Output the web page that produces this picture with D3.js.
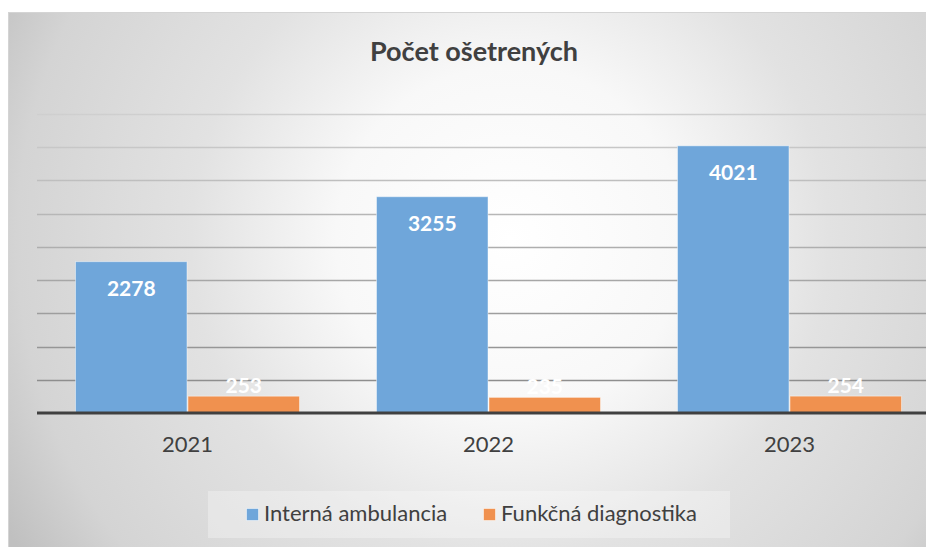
<!DOCTYPE html>
<html>
<head>
<meta charset="utf-8">
<script src="https://cdn.jsdelivr.net/npm/d3@7"></script>
<style>
    html, body { margin: 0; padding: 0; background: #fff; }
    svg { display: block; font-family: Lato, "Open Sans", sans-serif; }
</style>
</head>
<body>
<svg id="chart" width="926" height="547"></svg>
<script>
// data
var years = ["2021", "2022", "2023"];
var seriesNames = ["Interná ambulancia", "Funkčná diagnostika"];
var interna = [2278, 3255, 4021];
var funkcna = [253, 235, 254];
var yTicks = [500, 1000, 1500, 2000, 2500, 3000, 3500, 4000, 4500];

var colors = ["#6fa6da", "#f0914f"];
var values = [interna, funkcna];

var svg = d3.select("#chart");
var defs = svg.append("defs");

// pozadie - radialny gradient
var bg = defs.append("radialGradient")
    .attr("id", "bgGrad")
    .attr("gradientUnits", "userSpaceOnUse")
    .attr("cx", 510).attr("cy", 240).attr("r", 580);
bg.append("stop").attr("offset", "0").attr("stop-color", "#ffffff");
bg.append("stop").attr("offset", "0.3").attr("stop-color", "#f8f8f8");
bg.append("stop").attr("offset", "0.55").attr("stop-color", "#e2e2e2");
bg.append("stop").attr("offset", "0.85").attr("stop-color", "#d4d4d4");
bg.append("stop").attr("offset", "1").attr("stop-color", "#c0c0c0");

// mriezka tmavne smerom dole
var gg = defs.append("linearGradient")
    .attr("id", "gridGrad")
    .attr("gradientUnits", "userSpaceOnUse")
    .attr("x1", 0).attr("y1", 114).attr("x2", 0).attr("y2", 380);
gg.append("stop").attr("offset", "0").attr("stop-color", "#cfcfcf");
gg.append("stop").attr("offset", "1").attr("stop-color", "#8e8e8e");

svg.append("rect")
    .attr("x", 8.5).attr("y", 12.5)
    .attr("width", 930).attr("height", 550)
    .attr("fill", "url(#bgGrad)")
    .attr("stroke", "#d4d4d4")
    .attr("stroke-width", 1);

// scales
var x = d3.scaleBand()
    .domain(years)
    .range([37, 940])
    .paddingInner(0.2525)
    .paddingOuter(0.12625);

var xs = d3.scaleBand()
    .domain(seriesNames)
    .range([0, x.bandwidth()]);

var y = d3.scaleLinear()
    .domain([0, 4500])
    .range([413, 114]);

// gridlines
svg.append("g")
    .selectAll("line")
    .data(yTicks)
    .enter()
    .append("line")
    .attr("x1", 37)
    .attr("x2", 926)
    .attr("y1", function (d) { return Math.round(y(d)) + 0.5; })
    .attr("y2", function (d) { return Math.round(y(d)) + 0.5; })
    .attr("stroke", "url(#gridGrad)")
    .attr("stroke-width", 1.5);

// stlpce
var groups = svg.append("g")
    .selectAll("g")
    .data(years)
    .enter()
    .append("g")
    .attr("transform", function (d) { return "translate(" + x(d) + ",0)"; });

seriesNames.forEach(function (s, si) {
    groups.append("rect")
        .attr("x", xs(s) + 0.5)
        .attr("width", xs.bandwidth() - 1)
        .attr("y", function (d, i) { return y(values[si][i]); })
        .attr("height", function (d, i) { return y(0) - y(values[si][i]); })
        .attr("fill", colors[si])
        .attr("stroke", "#ffffff")
        .attr("stroke-opacity", 0.45)
        .attr("stroke-width", 1);
});

// popisky hodnot
seriesNames.forEach(function (s, si) {
    groups.append("text")
        .attr("x", xs(s) + xs.bandwidth() / 2)
        .attr("y", function (d, i) {
            var top = y(values[si][i]);
            return (y(0) - top > 40) ? top + 34 : top - 3;
        })
        .attr("text-anchor", "middle")
        .attr("fill", "#ffffff")
        .style("font-size", "21px")
        .style("font-weight", "bold")
        .text(function (d, i) { return values[si][i]; });
});

// os x
svg.append("line")
    .attr("x1", 37).attr("x2", 926)
    .attr("y1", 413).attr("y2", 413)
    .attr("stroke", "#404040")
    .attr("stroke-width", 3);

var xAxis = d3.axisBottom(x).tickSize(0).tickPadding(0);
var xg = svg.append("g")
    .attr("transform", "translate(0,452)")
    .call(xAxis);
xg.select(".domain").remove();
xg.selectAll("text")
    .attr("dy", 0)
    .attr("fill", "#404040")
    .style("font-family", "Lato, 'Open Sans', sans-serif")
    .style("font-size", "22px");

// titulok
svg.append("text")
    .attr("x", 474)
    .attr("y", 61)
    .attr("text-anchor", "middle")
    .attr("fill", "#404040")
    .style("font-size", "27px")
    .style("font-weight", "bold")
    .text("Počet ošetrených");

// legenda
svg.append("rect")
    .attr("x", 208).attr("y", 491)
    .attr("width", 522).attr("height", 47)
    .attr("fill", "#ffffff")
    .attr("fill-opacity", 0.3);

var legendX = [246, 483];
var lg = svg.append("g")
    .selectAll("g")
    .data(seriesNames)
    .enter()
    .append("g")
    .attr("transform", function (d, i) { return "translate(" + legendX[i] + ",0)"; });

lg.append("rect")
    .attr("x", 0.5).attr("y", 508.5)
    .attr("width", 12).attr("height", 12)
    .attr("fill", function (d, i) { return colors[i]; })
    .attr("stroke", "#ffffff")
    .attr("stroke-opacity", 0.5);

lg.append("text")
    .attr("x", 18)
    .attr("y", 521)
    .attr("fill", "#404040")
    .style("font-size", "22px")
    .text(function (d) { return d; });
</script>
</body>
</html>
